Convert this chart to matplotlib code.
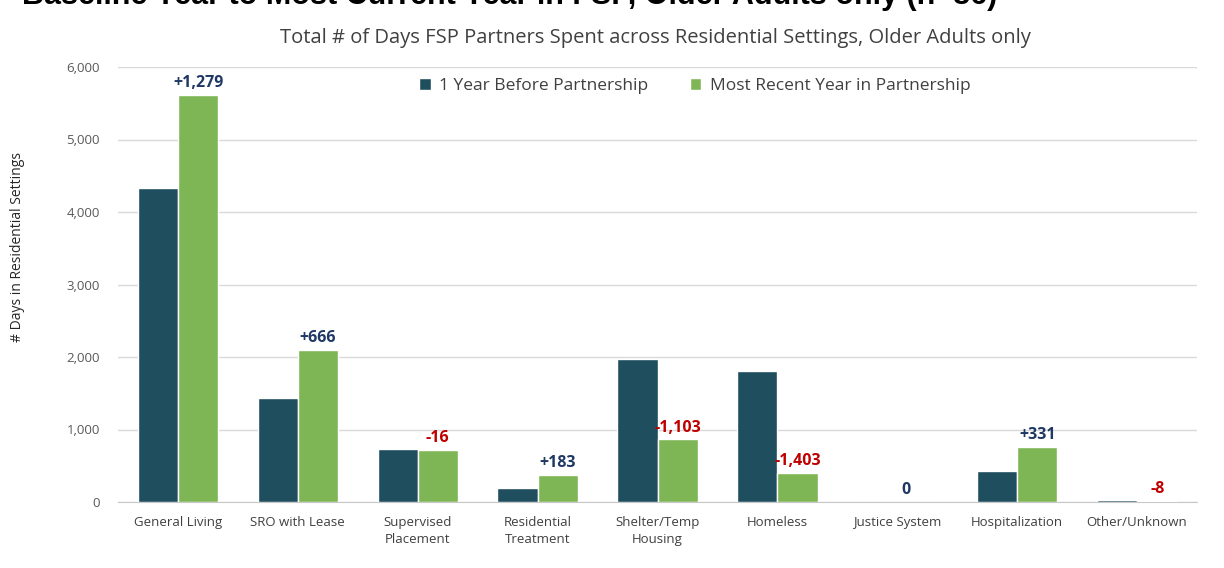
import matplotlib
matplotlib.use("Agg")
import matplotlib.pyplot as plt
import numpy as np

categories = ["General Living", "SRO with Lease", "Supervised\nPlacement", "Residential\nTreatment",
              "Shelter/Temp\nHousing", "Homeless", "Justice System", "Hospitalization", "Other/Unknown"]
before = [4335, 1432, 735, 190, 1968, 1807, 0, 430, 22]
recent = [5614, 2098, 719, 373, 865, 404, 0, 761, 14]
changes = ["+1,279", "+666", "-16", "+183", "-1,103", "-1,403", "0", "+331", "-8"]
series_names = ["1 Year Before Partnership", "Most Recent Year in Partnership"]
yticks = [0, 1000, 2000, 3000, 4000, 5000, 6000]

c_dark = "#1F4E5F"
c_green = "#7EB655"
c_pos = "#1F3864"
c_neg = "#C00000"
body_font = ["Open Sans", "DejaVu Sans"]

fig = plt.figure(figsize=(12.24, 5.68), dpi=100)
ax = fig.add_axes([118/1224, 1-502/568, (1197-118)/1224, (502-67)/568])

x = np.arange(len(categories))
w = 0.335
ax.bar(x - w/2, before, w, color=c_dark, edgecolor="white", linewidth=1, label=series_names[0], zorder=3)
ax.bar(x + w/2, recent, w, color=c_green, edgecolor="white", linewidth=1, label=series_names[1], zorder=3)

for i, txt in enumerate(changes):
    col = c_neg if txt.startswith("-") else c_pos
    xi = x[i] + w/2
    if recent[i] == 0 and before[i] == 0:
        xi = x[i] + 0.07
    ax.text(xi, recent[i] + 50, txt, ha="center", va="bottom", color=col,
            fontsize=11.5, fontweight="bold", family=body_font, zorder=4)

ax.set_xlim(-0.5, len(categories) - 0.5)
ax.set_ylim(0, 6000)
ax.set_yticks(yticks)
ax.set_yticklabels([f"{v:,}" for v in yticks], fontsize=9.5, color="#595959", family=body_font)
ax.set_xticks(x)
ax.set_xticklabels(categories, fontsize=9.5, color="#404040", family=body_font, linespacing=1.4)
ax.tick_params(axis="both", length=0)
ax.tick_params(axis="y", pad=13)
ax.tick_params(axis="x", pad=10)
ax.grid(axis="y", color="#D9D9D9", linewidth=1, zorder=0)
for s in ["top", "right", "left"]:
    ax.spines[s].set_visible(False)
ax.spines["bottom"].set_color("#C8C8C8")
ax.set_axisbelow(True)

fig.text(18/1224, 1-247/568, "# Days in Residential Settings", rotation=90, ha="center", va="center",
         fontsize=10, color="#262626", family=body_font)

leg = ax.legend(loc="center", bbox_to_anchor=(695/1224, 1-86/568), bbox_transform=fig.transFigure,
                ncol=2, frameon=False,
                prop={"family": "Open Sans", "size": 12.5}, handlelength=0.65, handleheight=0.65,
                columnspacing=2.4, handletextpad=0.5)
for t in leg.get_texts():
    t.set_color("#404040")

fig.text(655/1224, 1-38/568, "Total # of Days FSP Partners Spent across Residential Settings, Older Adults only",
         ha="center", va="center", fontsize=14.5, color="#404040", family=body_font)
fig.text(22/1224, 1-4/568, "Baseline Year to Most Current Year in FSP, Older Adults only (n=86)",
         ha="left", va="baseline", fontsize=22, fontweight="bold", color="black", family="Liberation Sans")

fig.savefig("out.png", dpi=100)
